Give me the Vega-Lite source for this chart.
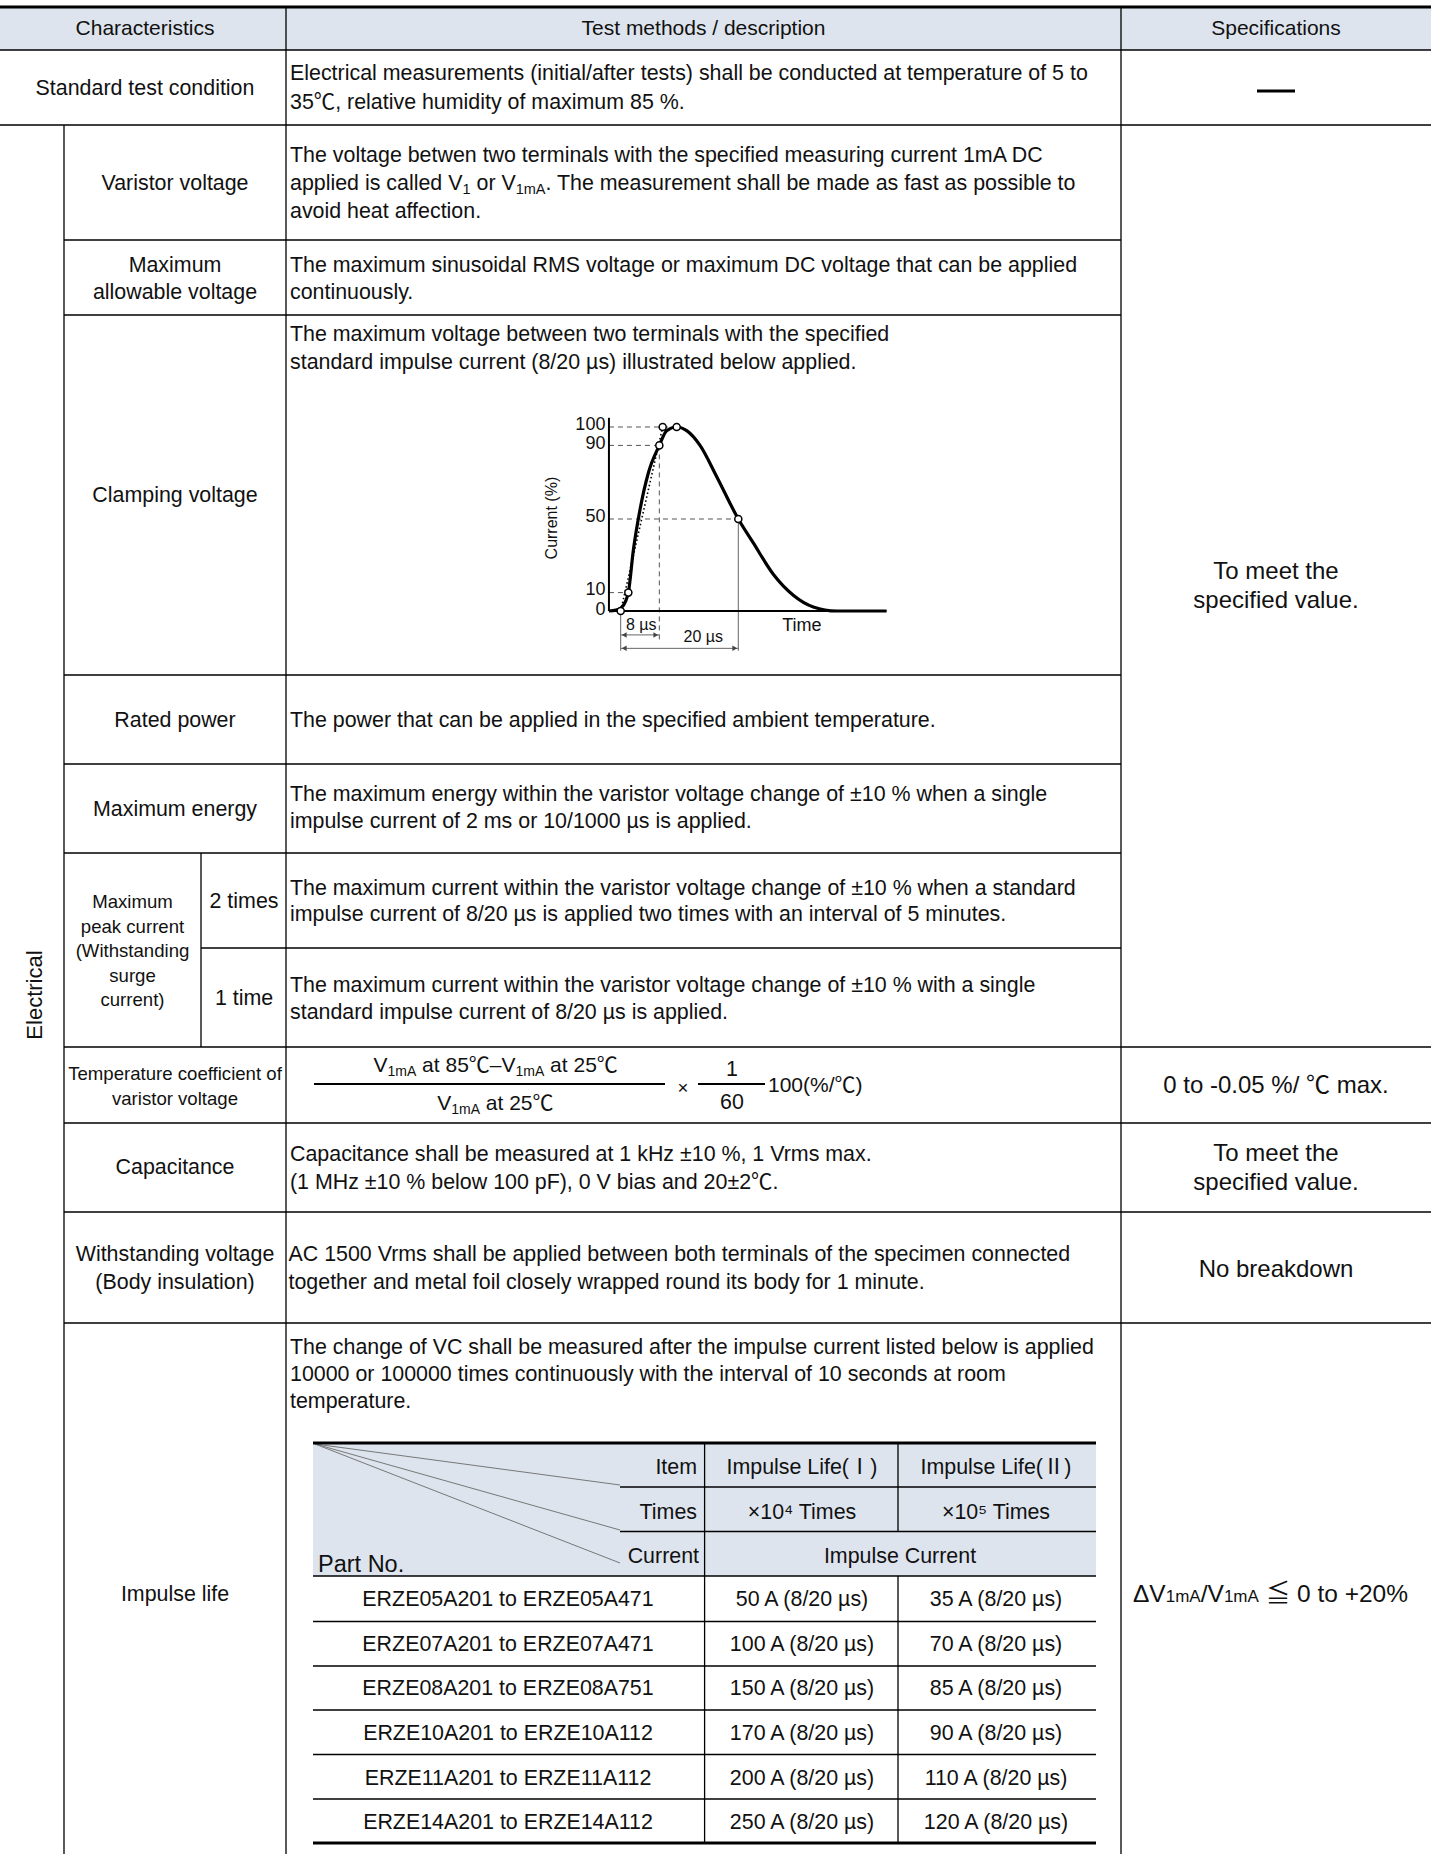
{
  "$schema": "https://vega.github.io/schema/vega-lite/v6.json",
  "width": 1431,
  "height": 1854,
  "padding": 0,
  "autosize": {"type": "none"},
  "background": "white",
  "config": {
    "view": {"stroke": null},
    "font": "Liberation Sans, Noto Sans CJK JP",
    "text": {"font": "Liberation Sans, Noto Sans CJK JP", "color": "#111111"}
  },
  "datasets": {
    "fills": [
      {"x": 0, "x2": 1431, "y": 8, "y2": 50},
      {"x": 313, "x2": 1096, "y": 1444, "y2": 1576}
    ],
    "grid": [
      {"x": 0, "x2": 1431, "y": 50, "y2": 50},
      {"x": 0, "x2": 1431, "y": 125, "y2": 125},
      {"x": 64, "x2": 1121, "y": 240, "y2": 240},
      {"x": 64, "x2": 1121, "y": 315, "y2": 315},
      {"x": 64, "x2": 1121, "y": 675, "y2": 675},
      {"x": 64, "x2": 1121, "y": 764, "y2": 764},
      {"x": 64, "x2": 1121, "y": 853, "y2": 853},
      {"x": 201, "x2": 1121, "y": 948, "y2": 948},
      {"x": 64, "x2": 1431, "y": 1047, "y2": 1047},
      {"x": 64, "x2": 1431, "y": 1123, "y2": 1123},
      {"x": 64, "x2": 1431, "y": 1212, "y2": 1212},
      {"x": 64, "x2": 1431, "y": 1323, "y2": 1323},
      {"x": 64, "x2": 64, "y": 125, "y2": 1854},
      {"x": 286, "x2": 286, "y": 7, "y2": 1854},
      {"x": 201, "x2": 201, "y": 853, "y2": 1047},
      {"x": 1121, "x2": 1121, "y": 7, "y2": 1854},
      {"x": 620, "x2": 1096, "y": 1487, "y2": 1487},
      {"x": 620, "x2": 1096, "y": 1531.5, "y2": 1531.5},
      {"x": 313, "x2": 1096, "y": 1576, "y2": 1576},
      {"x": 313, "x2": 1096, "y": 1621.5, "y2": 1621.5},
      {"x": 313, "x2": 1096, "y": 1666, "y2": 1666},
      {"x": 313, "x2": 1096, "y": 1710, "y2": 1710},
      {"x": 313, "x2": 1096, "y": 1754.5, "y2": 1754.5},
      {"x": 313, "x2": 1096, "y": 1799, "y2": 1799},
      {"x": 704.6, "x2": 704.6, "y": 1443, "y2": 1843},
      {"x": 898, "x2": 898, "y": 1443, "y2": 1531.5},
      {"x": 898, "x2": 898, "y": 1576, "y2": 1843}
    ],
    "diag": [
      {"x": 315, "x2": 620, "y": 1444, "y2": 1485},
      {"x": 315, "x2": 620, "y": 1444, "y2": 1530},
      {"x": 315, "x2": 620, "y": 1444, "y2": 1563}
    ],
    "heavy": [
      {"x": 0, "x2": 1431, "y": 7, "y2": 7},
      {"x": 313, "x2": 1096, "y": 1443, "y2": 1443},
      {"x": 313, "x2": 1096, "y": 1843, "y2": 1843},
      {"x": 1257, "x2": 1295, "y": 91, "y2": 91}
    ],
    "bars": [
      {"x": 314, "x2": 665, "y": 1084, "y2": 1084},
      {"x": 698, "x2": 765, "y": 1084, "y2": 1084}
    ],
    "hdr": [
      {"x": 145, "y": 29, "text": "Characteristics"},
      {"x": 703.5, "y": 29, "text": "Test methods / description"},
      {"x": 1276, "y": 29, "text": "Specifications"}
    ],
    "tcr": [
      {"x": 1276, "y": 570, "text": "To meet the"},
      {"x": 1276, "y": 599.5, "text": "specified value."},
      {"x": 1276, "y": 1084.5, "text": "0 to -0.05 %/ ℃ max."},
      {"x": 1276, "y": 1152, "text": "To meet the"},
      {"x": 1276, "y": 1181, "text": "specified value."},
      {"x": 1276, "y": 1268, "text": "No breakdown"}
    ],
    "tc": [
      {"x": 145, "y": 87.5, "text": "Standard test condition"},
      {"x": 175, "y": 182, "text": "Varistor voltage"},
      {"x": 175, "y": 264, "text": "Maximum"},
      {"x": 175, "y": 291, "text": "allowable voltage"},
      {"x": 175, "y": 494, "text": "Clamping voltage"},
      {"x": 175, "y": 719, "text": "Rated power"},
      {"x": 175, "y": 808, "text": "Maximum energy"},
      {"x": 244, "y": 900, "text": "2 times"},
      {"x": 244, "y": 997, "text": "1 time"},
      {"x": 175, "y": 1166, "text": "Capacitance"},
      {"x": 175, "y": 1253.5, "text": "Withstanding voltage"},
      {"x": 175, "y": 1281, "text": "(Body insulation)"},
      {"x": 175, "y": 1593, "text": "Impulse life"},
      {"x": 732, "y": 1068, "text": "1"},
      {"x": 732, "y": 1101, "text": "60"},
      {"x": 802, "y": 1466, "text": "Impulse Life(Ⅰ)"},
      {"x": 996, "y": 1466, "text": "Impulse Life(Ⅱ)"},
      {"x": 802, "y": 1511, "text": "×10⁴ Times"},
      {"x": 996, "y": 1511, "text": "×10⁵ Times"},
      {"x": 900, "y": 1555, "text": "Impulse Current"},
      {"x": 508, "y": 1598, "text": "ERZE05A201 to ERZE05A471"},
      {"x": 802, "y": 1598, "text": "50 A (8/20 µs)"},
      {"x": 996, "y": 1598, "text": "35 A (8/20 µs)"},
      {"x": 508, "y": 1643, "text": "ERZE07A201 to ERZE07A471"},
      {"x": 802, "y": 1643, "text": "100 A (8/20 µs)"},
      {"x": 996, "y": 1643, "text": "70 A (8/20 µs)"},
      {"x": 508, "y": 1687, "text": "ERZE08A201 to ERZE08A751"},
      {"x": 802, "y": 1687, "text": "150 A (8/20 µs)"},
      {"x": 996, "y": 1687, "text": "85 A (8/20 µs)"},
      {"x": 508, "y": 1732, "text": "ERZE10A201 to ERZE10A112"},
      {"x": 802, "y": 1732, "text": "170 A (8/20 µs)"},
      {"x": 996, "y": 1732, "text": "90 A (8/20 µs)"},
      {"x": 508, "y": 1777, "text": "ERZE11A201 to ERZE11A112"},
      {"x": 802, "y": 1777, "text": "200 A (8/20 µs)"},
      {"x": 996, "y": 1777, "text": "110 A (8/20 µs)"},
      {"x": 508, "y": 1821, "text": "ERZE14A201 to ERZE14A112"},
      {"x": 802, "y": 1821, "text": "250 A (8/20 µs)"},
      {"x": 996, "y": 1821, "text": "120 A (8/20 µs)"}
    ],
    "ts": [
      {"x": 132.5, "y": 900, "text": "Maximum"},
      {"x": 132.5, "y": 925, "text": "peak current"},
      {"x": 132.5, "y": 949, "text": "(Withstanding"},
      {"x": 132.5, "y": 974, "text": "surge"},
      {"x": 132.5, "y": 998, "text": "current)"},
      {"x": 175, "y": 1072, "text": "Temperature coefficient of"},
      {"x": 175, "y": 1097, "text": "varistor voltage"},
      {"x": 683, "y": 1086, "text": "×"}
    ],
    "tl": [
      {"x": 290, "y": 72, "text": "Electrical measurements (initial/after tests) shall be conducted at temperature of 5 to"},
      {"x": 290, "y": 101.5, "text": "35℃, relative humidity of maximum 85 %."},
      {"x": 290, "y": 154, "text": "The voltage betwen two terminals with the specified measuring current 1mA DC"},
      {"x": 290, "y": 182, "text": "applied is called V"},
      {"x": 476.5, "y": 182, "text": "or V"},
      {"x": 545.5, "y": 182, "text": ". The measurement shall be made as fast as possible to"},
      {"x": 290, "y": 210.5, "text": "avoid heat affection."},
      {"x": 290, "y": 264, "text": "The maximum sinusoidal RMS voltage or maximum DC voltage that can be applied"},
      {"x": 290, "y": 291, "text": "continuously."},
      {"x": 290, "y": 333.5, "text": "The maximum voltage between two terminals with the specified"},
      {"x": 290, "y": 361, "text": "standard impulse current (8/20 µs) illustrated below applied."},
      {"x": 290, "y": 719, "text": "The power that can be applied in the specified ambient temperature."},
      {"x": 290, "y": 793.5, "text": "The maximum energy within the varistor voltage change of ±10 % when a single"},
      {"x": 290, "y": 820.5, "text": "impulse current of 2 ms or 10/1000 µs is applied."},
      {"x": 290, "y": 887, "text": "The maximum current within the varistor voltage change of ±10 % when a standard"},
      {"x": 290, "y": 913, "text": "impulse current of 8/20 µs is applied two times with an interval of 5 minutes."},
      {"x": 290, "y": 984, "text": "The maximum current within the varistor voltage change of ±10 % with a single"},
      {"x": 290, "y": 1011, "text": "standard impulse current of 8/20 µs is applied."},
      {"x": 290, "y": 1153, "text": "Capacitance shall be measured at 1 kHz ±10 %, 1 Vrms max."},
      {"x": 290, "y": 1181, "text": "(1 MHz ±10 % below 100 pF), 0 V bias and 20±2℃."},
      {"x": 288.5, "y": 1253.5, "text": "AC 1500 Vrms shall be applied between both terminals of the specimen connected"},
      {"x": 288.5, "y": 1281, "text": "together and metal foil closely wrapped round its body for 1 minute."},
      {"x": 290, "y": 1346, "text": "The change of VC shall be measured after the impulse current listed below is applied"},
      {"x": 290, "y": 1373, "text": "10000 or 100000 times continuously with the interval of 10 seconds at room"},
      {"x": 290, "y": 1400, "text": "temperature."}
    ],
    "tf": [
      {"x": 373.5, "y": 1064, "text": "V"},
      {"x": 422.1, "y": 1064, "text": "at 85℃–V"},
      {"x": 550.1, "y": 1064, "text": "at 25℃"},
      {"x": 437.2, "y": 1102, "text": "V"},
      {"x": 485.8, "y": 1102, "text": "at 25℃"},
      {"x": 768, "y": 1084, "text": "100(%/℃)"}
    ],
    "tlbig": [
      {"x": 318, "y": 1563, "text": "Part No."}
    ],
    "tr": [
      {"x": 697, "y": 1466, "text": "Item"},
      {"x": 697, "y": 1511, "text": "Times"},
      {"x": 699, "y": 1555, "text": "Current"}
    ],
    "sub": [
      {"x": 462.5, "y": 182, "text": "1"},
      {"x": 515.7, "y": 182, "text": "1mA"}
    ],
    "subf": [
      {"x": 387.5, "y": 1064, "text": "1mA"},
      {"x": 515.5, "y": 1064, "text": "1mA"},
      {"x": 451.2, "y": 1102, "text": "1mA"}
    ],
    "rot": [
      {"x": 35, "y": 995, "text": "Electrical"}
    ],
    "dvm": [
      {"x": 1133, "y": 1602, "text": "ΔV"},
      {"x": 1200.7, "y": 1602, "text": "/V"},
      {"x": 1265.7, "y": 1602, "text": "≦ 0 to +20%"}
    ],
    "dvs": [
      {"x": 1165.7, "y": 1602, "text": "1mA"},
      {"x": 1223.9, "y": 1602, "text": "1mA"}
    ],
    "gaxis": [
      {"t": -2, "t2": -2, "p": 0, "p2": 105},
      {"t": -2, "t2": 45.2, "p": 0, "p2": 0}
    ],
    "gdash": [
      {"t": -2, "t2": 9.52, "p": 100, "p2": 100},
      {"t": -2, "t2": 6.57, "p": 90, "p2": 90},
      {"t": -2, "t2": 20, "p": 50, "p2": 50},
      {"t": -2, "t2": 1.3, "p": 10, "p2": 10},
      {"t": 6.57, "t2": 6.57, "p": 90, "p2": -15.8}
    ],
    "gthin": [
      {"t": 0, "t2": 0, "p": 0, "p2": -21.6},
      {"t": 20, "t2": 20, "p": 50, "p2": -21.6},
      {"t": 0, "t2": 6.57, "p": -13, "p2": -13},
      {"t": 0, "t2": 20, "p": -20.3, "p2": -20.3}
    ],
    "gdot": [
      {"t": 0, "t2": 7.14, "p": 0, "p2": 100}
    ],
    "curve": [
      {"t": -2, "p": 0},
      {"t": -0.8, "p": 0.5},
      {"t": 0.0, "p": 1.5},
      {"t": 0.9, "p": 5.8},
      {"t": 1.3, "p": 10},
      {"t": 2.15, "p": 33},
      {"t": 3.28, "p": 55},
      {"t": 4.7, "p": 75},
      {"t": 6.57, "p": 90},
      {"t": 7.82, "p": 98},
      {"t": 9.52, "p": 100},
      {"t": 11.22, "p": 98},
      {"t": 13.49, "p": 90},
      {"t": 16.33, "p": 73},
      {"t": 20, "p": 50},
      {"t": 22.55, "p": 37},
      {"t": 25.95, "p": 20},
      {"t": 29.35, "p": 8.6},
      {"t": 32.76, "p": 2.2},
      {"t": 36.73, "p": 0},
      {"t": 45.2, "p": 0}
    ],
    "circ": [
      {"t": 0, "p": 0},
      {"t": 1.3, "p": 10},
      {"t": 6.57, "p": 90},
      {"t": 7.14, "p": 100},
      {"t": 9.52, "p": 100},
      {"t": 20, "p": 50}
    ],
    "headsL": [
      {"t": 0.6, "p": -13},
      {"t": 0.6, "p": -20.3}
    ],
    "headsR": [
      {"t": 5.97, "p": -13},
      {"t": 19.4, "p": -20.3}
    ],
    "gtick": [
      {"t": -2.6, "p": 101, "text": "100"},
      {"t": -2.6, "p": 91, "text": "90"},
      {"t": -2.6, "p": 51, "text": "50"},
      {"t": -2.6, "p": 11.3, "text": "10"},
      {"t": -2.6, "p": 0.5, "text": "0"}
    ],
    "glab": [
      {"t": 3.5, "p": -7.6, "text": "8 µs"},
      {"t": 14.05, "p": -14.3, "text": "20 µs"}
    ],
    "gtime": [
      {"t": 30.8, "p": -8.2, "text": "Time"}
    ],
    "gylab": [
      {"t": -11.7, "p": 50.5, "text": "Current (%)"}
    ]
  },
  "resolve": {"scale": {"x": "independent", "y": "independent"}},
  "layer": [
    {
      "encoding": {
        "x": {"field": "x", "type": "quantitative", "scale": {"domain": [0, 1431], "nice": false, "zero": false}, "axis": null},
        "y": {"field": "y", "type": "quantitative", "scale": {"domain": [0, 1854], "nice": false, "zero": false, "reverse": true}, "axis": null}
      },
      "layer": [
        {"data": {"name": "fills"}, "mark": {"type": "rect", "color": "#dde4ed"}, "encoding": {"x2": {"field": "x2"}, "y2": {"field": "y2"}}},
        {"data": {"name": "grid"}, "mark": {"type": "rule", "color": "#000000", "strokeWidth": 1.3}, "encoding": {"x2": {"field": "x2"}, "y2": {"field": "y2"}}},
        {"data": {"name": "diag"}, "mark": {"type": "rule", "color": "#777777", "strokeWidth": 1}, "encoding": {"x2": {"field": "x2"}, "y2": {"field": "y2"}}},
        {"data": {"name": "heavy"}, "mark": {"type": "rule", "color": "#000000", "strokeWidth": 3}, "encoding": {"x2": {"field": "x2"}, "y2": {"field": "y2"}}},
        {"data": {"name": "bars"}, "mark": {"type": "rule", "color": "#000000", "strokeWidth": 2}, "encoding": {"x2": {"field": "x2"}, "y2": {"field": "y2"}}},
        {"data": {"name": "hdr"}, "mark": {"type": "text", "fontSize": 21}, "encoding": {"text": {"field": "text"}}},
        {"data": {"name": "tcr"}, "mark": {"type": "text", "fontSize": 24, "dy": 1.5}, "encoding": {"text": {"field": "text"}}},
        {"data": {"name": "tc"}, "mark": {"type": "text", "fontSize": 21.4, "dy": 1.5}, "encoding": {"text": {"field": "text"}}},
        {"data": {"name": "ts"}, "mark": {"type": "text", "fontSize": 18.6, "dy": 1.5}, "encoding": {"text": {"field": "text"}}},
        {"data": {"name": "tl"}, "mark": {"type": "text", "fontSize": 21.4, "align": "left", "dy": 1.5}, "encoding": {"text": {"field": "text"}}},
        {"data": {"name": "tf"}, "mark": {"type": "text", "fontSize": 21, "align": "left", "dy": 1.5}, "encoding": {"text": {"field": "text"}}},
        {"data": {"name": "tlbig"}, "mark": {"type": "text", "fontSize": 23.5, "align": "left", "dy": 1.5}, "encoding": {"text": {"field": "text"}}},
        {"data": {"name": "tr"}, "mark": {"type": "text", "fontSize": 21.4, "align": "right", "dy": 1.5}, "encoding": {"text": {"field": "text"}}},
        {"data": {"name": "sub"}, "mark": {"type": "text", "fontSize": 14.5, "align": "left", "dy": 7.5}, "encoding": {"text": {"field": "text"}}},
        {"data": {"name": "subf"}, "mark": {"type": "text", "fontSize": 14, "align": "left", "dy": 7.5}, "encoding": {"text": {"field": "text"}}},
        {"data": {"name": "rot"}, "mark": {"type": "text", "fontSize": 22, "angle": 270}, "encoding": {"text": {"field": "text"}}},
        {"data": {"name": "dvm"}, "mark": {"type": "text", "fontSize": 24.5, "align": "left", "baseline": "alphabetic"}, "encoding": {"text": {"field": "text"}}},
        {"data": {"name": "dvs"}, "mark": {"type": "text", "fontSize": 17, "align": "left", "baseline": "alphabetic"}, "encoding": {"text": {"field": "text"}}}
      ]
    },
    {
      "encoding": {
        "x": {"field": "t", "type": "quantitative", "scale": {"domain": [-20, 50], "range": [503.1, 914.7], "nice": false, "zero": false}, "axis": null},
        "y": {"field": "p", "type": "quantitative", "scale": {"domain": [-30, 110], "range": [666.2, 408.6], "nice": false, "zero": false}, "axis": null}
      },
      "layer": [
        {"data": {"name": "gdash"}, "mark": {"type": "rule", "color": "#555555", "strokeWidth": 1, "strokeDash": [5, 4]}, "encoding": {"x2": {"field": "t2"}, "y2": {"field": "p2"}}},
        {"data": {"name": "gthin"}, "mark": {"type": "rule", "color": "#666666", "strokeWidth": 1}, "encoding": {"x2": {"field": "t2"}, "y2": {"field": "p2"}}},
        {"data": {"name": "gaxis"}, "mark": {"type": "rule", "color": "#000000", "strokeWidth": 2}, "encoding": {"x2": {"field": "t2"}, "y2": {"field": "p2"}}},
        {"data": {"name": "gdot"}, "mark": {"type": "rule", "color": "#000000", "strokeWidth": 1.6, "strokeDash": [1.5, 2.5]}, "encoding": {"x2": {"field": "t2"}, "y2": {"field": "p2"}}},
        {"data": {"name": "curve"}, "mark": {"type": "line", "color": "#000000", "strokeWidth": 3.2, "interpolate": "monotone"}, "encoding": {}},
        {"data": {"name": "circ"}, "mark": {"type": "point", "filled": true, "fill": "white", "stroke": "black", "strokeWidth": 1.5, "size": 50, "opacity": 1}, "encoding": {}},
        {"data": {"name": "headsL"}, "mark": {"type": "point", "shape": "triangle-left", "filled": true, "color": "#444444", "size": 30, "opacity": 1}, "encoding": {}},
        {"data": {"name": "headsR"}, "mark": {"type": "point", "shape": "triangle-right", "filled": true, "color": "#444444", "size": 30, "opacity": 1}, "encoding": {}},
        {"data": {"name": "gtick"}, "mark": {"type": "text", "fontSize": 18, "align": "right"}, "encoding": {"text": {"field": "text"}}},
        {"data": {"name": "glab"}, "mark": {"type": "text", "fontSize": 16}, "encoding": {"text": {"field": "text"}}},
        {"data": {"name": "gtime"}, "mark": {"type": "text", "fontSize": 18}, "encoding": {"text": {"field": "text"}}},
        {"data": {"name": "gylab"}, "mark": {"type": "text", "fontSize": 16, "angle": 270}, "encoding": {"text": {"field": "text"}}}
      ]
    }
  ]
}
